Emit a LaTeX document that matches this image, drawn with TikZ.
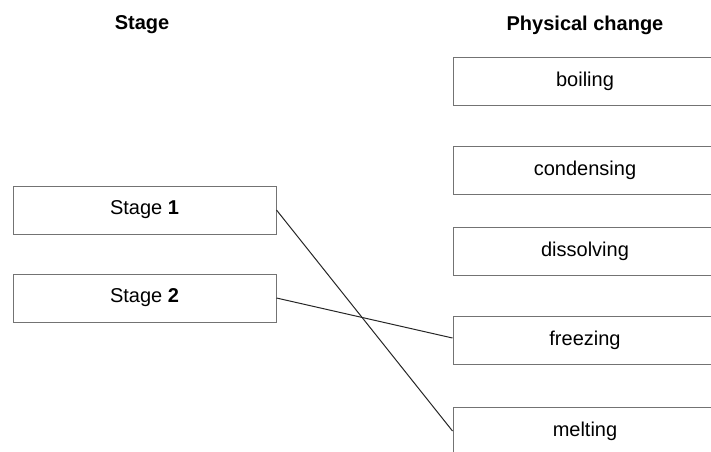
\documentclass[tikz,border=0pt]{standalone}
\usepackage{fontspec}
\setmainfont{Liberation Sans}
\begin{document}
\begin{tikzpicture}[x=1pt,y=-1pt,
  box/.style={draw=black!55, line width=1pt, minimum height=48pt, inner sep=0pt, font=\fontsize{20}{24}\selectfont},
  lbox/.style={box, minimum width=263pt},
  rbox/.style={box, minimum width=264pt},
  head/.style={font=\fontsize{20}{24}\selectfont\bfseries},
  link/.style={draw=black!85, line width=1pt}]
\useasboundingbox (0,0) rectangle (711,451);
\clip (0,0) rectangle (711,451);
\node[head] (h1) at (142,25) {Stage};
\node[head] (h2) at (585,25) {Physical change};
\node[lbox] (s1) at (144.5,210) {Stage \textbf{1}};
\node[lbox] (s2) at (144.5,298) {Stage \textbf{2}};
\node[rbox] (boil) at (585,81) {boiling};
\node[rbox] (cond) at (585,170.5) {condensing};
\node[rbox] (diss) at (585,251.5) {dissolving};
\node[rbox] (free) at (585,340) {freezing};
\node[rbox] (melt) at (585,431) {melting};
\draw[link] (s1.east) -- (melt.west);
\draw[link] (s2.east) -- ([yshift=2pt]free.west);
\end{tikzpicture}
\end{document}
